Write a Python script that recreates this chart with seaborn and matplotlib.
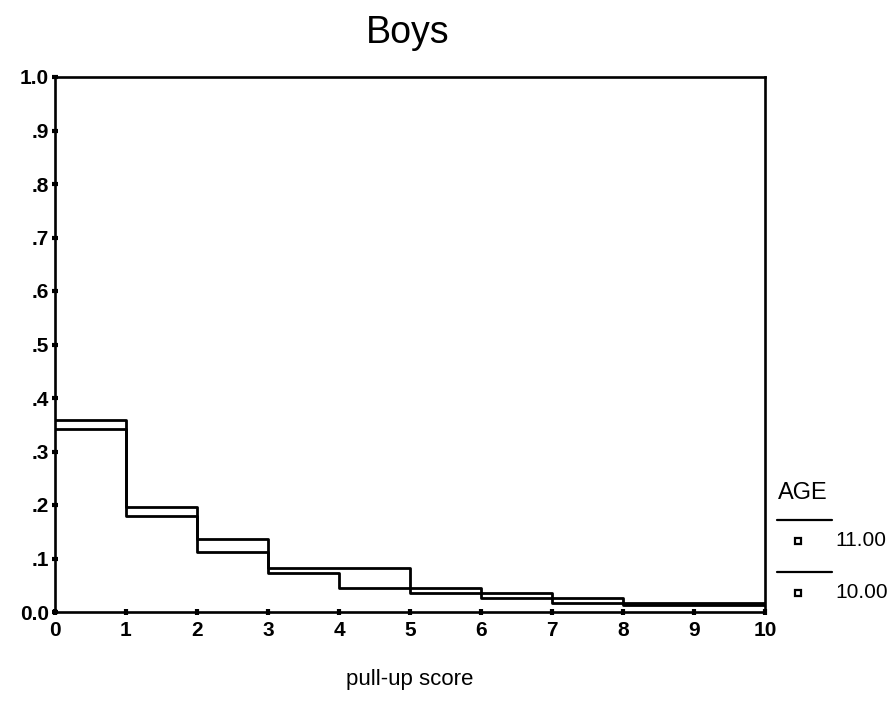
import numpy as np
import pandas as pd
import matplotlib
matplotlib.use("Agg")
import matplotlib.pyplot as plt
from matplotlib.lines import Line2D
import seaborn as sns

# Pull-up score bins (left edges) and proportion of boys per bin, by age
scores = list(range(10))
age_11 = [0.359, 0.196, 0.136, 0.082, 0.082, 0.045, 0.036, 0.026, 0.017, 0.017]
age_10 = [0.342, 0.179, 0.112, 0.073, 0.045, 0.036, 0.026, 0.017, 0.014, 0.014]
ages = ["11.00", "10.00"]
x_ticks = list(range(11))
y_ticks = [0.0, 0.1, 0.2, 0.3, 0.4, 0.5, 0.6, 0.7, 0.8, 0.9, 1.0]
y_tick_labels = ["0.0", ".1", ".2", ".3", ".4", ".5", ".6", ".7", ".8", ".9", "1.0"]

sns.set_theme(style="white")
plt.rcParams["font.family"] = ["Liberation Sans", "DejaVu Sans"]
plt.rcParams["text.color"] = "black"
plt.rcParams["axes.labelcolor"] = "black"
plt.rcParams["xtick.color"] = "black"
plt.rcParams["ytick.color"] = "black"

# Step outlines need a closing point at the right edge of the last bin
rows = []
for age, vals in zip(ages, [age_11, age_10]):
    xs = scores + [scores[-1] + 1]
    ys = vals + [vals[-1]]
    for x, y in zip(xs, ys):
        rows.append({"score": x, "prop": y, "AGE": age})
df = pd.DataFrame(rows)

fig = plt.figure(figsize=(8.95, 7.18), dpi=100)
ax = fig.add_axes([55 / 895, 1 - 612 / 718, 710 / 895, 535 / 718])

sns.lineplot(data=df, x="score", y="prop", units="AGE", estimator=None,
             drawstyle="steps-post", color="black", linewidth=2.0,
             legend=False, ax=ax)

ax.set_xlim(0, 10)
ax.set_ylim(0, 1.0)
ax.set_xticks(x_ticks)
ax.set_xticklabels([str(t) for t in x_ticks], fontsize=15, fontweight="bold")
ax.set_yticks(y_ticks)
ax.set_yticklabels(y_tick_labels, fontsize=15, fontweight="bold")
ax.tick_params(axis="x", direction="inout", length=5, width=3, pad=4)
ax.tick_params(axis="y", direction="inout", length=5, width=3, pad=2)
ax.tick_params(bottom=True, left=True)
for s in ax.spines.values():
    s.set_color("black")
    s.set_linewidth(1.9)

ax.set_xlabel("")
ax.set_ylabel("")
fig.text(410 / 895, 1 - 680 / 718, "pull-up score", ha="center", va="center",
         fontsize=16)
fig.text(408 / 895, 1 - 33 / 718, "Boys", ha="center", va="center",
         fontsize=27)

# Legend block to the right of the plot
fig.text(778 / 895, 1 - 493 / 718, "AGE", ha="left", va="center", fontsize=17)
for i, lab in enumerate(ages):
    yline = 1 - (520 + 52 * i) / 718
    ymark = 1 - (541 + 52 * i) / 718
    fig.add_artist(Line2D([777 / 895, 832 / 895], [yline, yline],
                          color="black", linewidth=1.6, transform=fig.transFigure))
    fig.add_artist(Line2D([798 / 895], [ymark], marker="s", markersize=5,
                          markerfacecolor="white", markeredgecolor="black",
                          markeredgewidth=1.6, linestyle="none",
                          transform=fig.transFigure))
    fig.text(835 / 895, ymark, lab, ha="left", va="center", fontsize=15)

fig.savefig("out.png", dpi=100)
